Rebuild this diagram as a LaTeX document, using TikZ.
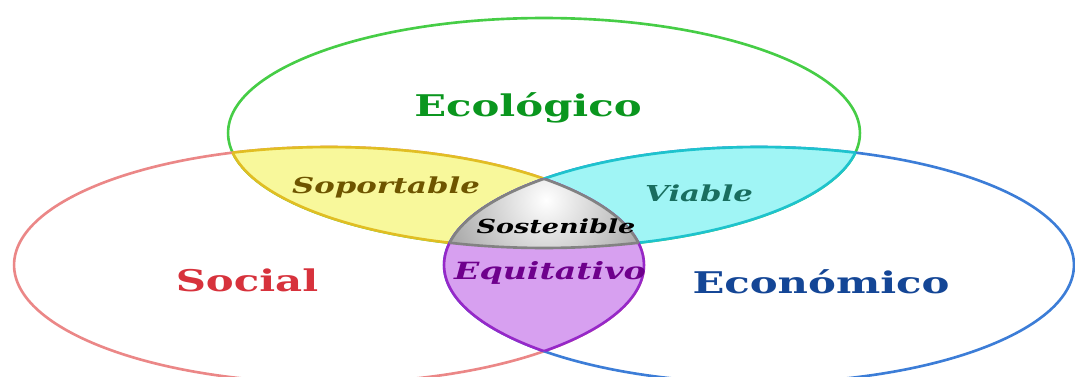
\documentclass[tikz,border=0pt]{standalone}
\usepackage{fontspec}
\newfontfamily\vennfont[FakeStretch=1.4]{DejaVu Serif}

\definecolor{ecoline}{RGB}{70,205,70}
\definecolor{ecotext}{RGB}{10,150,30}
\definecolor{socline}{RGB}{235,135,135}
\definecolor{soctext}{RGB}{215,50,60}
\definecolor{econline}{RGB}{60,125,215}
\definecolor{econtext}{RGB}{20,70,150}
\definecolor{sopfill}{RGB}{248,248,155}
\definecolor{sopline}{RGB}{225,190,35}
\definecolor{soptext}{RGB}{110,85,0}
\definecolor{viafill}{RGB}{160,245,245}
\definecolor{vialine}{RGB}{30,195,205}
\definecolor{viatext}{RGB}{25,110,95}
\definecolor{equfill}{RGB}{215,160,240}
\definecolor{equline}{RGB}{150,40,200}
\definecolor{equtext}{RGB}{110,0,140}
\definecolor{sosline}{RGB}{130,130,130}

% the three circles of the diagram
\newcommand{\ecopath}{(544,243) ellipse [x radius=6.32cm, y radius=2.3cm]}
\newcommand{\socpath}{(329,111) ellipse [x radius=6.3cm, y radius=2.36cm]}
\newcommand{\econpath}{(759,111) ellipse [x radius=6.3cm, y radius=2.36cm]}

\begin{document}
\begin{tikzpicture}[
  x=0.02cm, y=0.02cm,
  rim/.style={line width=1.5pt},
  mainlabel/.style={font=\vennfont\bfseries\fontsize{17}{19}\selectfont},
  lenslabel/.style={font=\vennfont\bfseries\itshape\fontsize{12.5}{15}\selectfont}]

  \clip (0,0) rectangle (1075,376);

  % Outlines of the three ellipses
  \draw[rim,ecoline] \ecopath;
  \draw[rim,socline] \socpath;
  \draw[rim,econline] \econpath;

  % Soportable lens
  \begin{scope}
    \clip \ecopath;
    \fill[sopfill] \socpath;
    \draw[rim,sopline] \socpath;
  \end{scope}
  \begin{scope}
    \clip \socpath;
    \draw[rim,sopline] \ecopath;
  \end{scope}

  % Viable lens
  \begin{scope}
    \clip \ecopath;
    \fill[viafill] \econpath;
    \draw[rim,vialine] \econpath;
  \end{scope}
  \begin{scope}
    \clip \econpath;
    \draw[rim,vialine] \ecopath;
  \end{scope}

  % Equitativo lens
  \begin{scope}
    \clip \socpath;
    \fill[equfill] \econpath;
    \draw[rim,equline] \econpath;
  \end{scope}
  \begin{scope}
    \clip \econpath;
    \draw[rim,equline] \socpath;
  \end{scope}

  % Sostenible, the middle piece
  \begin{scope}
    \clip \ecopath;
    \clip \socpath;
    \clip \econpath;
    \shade[inner color=white, outer color=black!40] (546,176) circle [radius=2.4cm];
  \end{scope}
  \begin{scope}
    \clip \ecopath;
    \clip \socpath;
    \draw[rim,sosline] \econpath;
  \end{scope}
  \begin{scope}
    \clip \ecopath;
    \clip \econpath;
    \draw[rim,sosline] \socpath;
  \end{scope}
  \begin{scope}
    \clip \socpath;
    \clip \econpath;
    \draw[rim,sosline] \ecopath;
  \end{scope}

  % Labels
  \node[mainlabel,text=ecotext] (eco) at (528,268) {Ecológico};
  \node[mainlabel,text=soctext] (soc) at (247,96) {Social};
  \node[mainlabel,text=econtext] (econ) at (821,94) {Económico};
  \node[lenslabel,text=soptext] (sop) at (386,189) {Soportable};
  \node[lenslabel,text=viatext] (via) at (699,183) {Viable};
  \node[lenslabel,text=black,font=\vennfont\bfseries\itshape\fontsize{11}{13}\selectfont] (sos) at (556,150) {Sostenible};
  \node[lenslabel,text=equtext,font=\vennfont\bfseries\itshape\fontsize{13.5}{15}\selectfont] (equ) at (550,103) {Equitativo};
\end{tikzpicture}
\end{document}
